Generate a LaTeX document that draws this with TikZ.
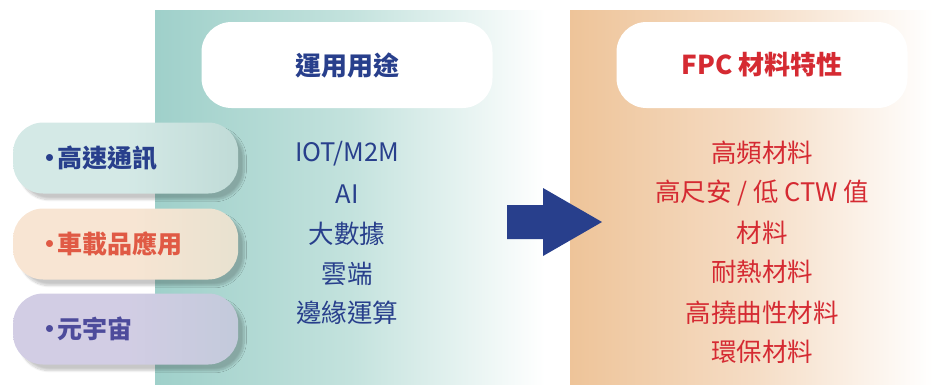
\documentclass[tikz,border=0pt]{standalone}
\usepackage{fontspec}
\setmainfont{Noto Sans CJK TC}
\usetikzlibrary{shadows.blur}
\definecolor{tealL}{HTML}{9FD0CA}
\definecolor{tealM}{HTML}{C3E2DD}
\definecolor{orL}{HTML}{EEC499}
\definecolor{orM}{HTML}{F5DCC4}
\definecolor{navy}{HTML}{283F8C}
\definecolor{redT}{HTML}{D52A32}
\definecolor{pillA}{HTML}{D4E9E6}
\definecolor{pillAr}{HTML}{C0DBD7}
\definecolor{pillB}{HTML}{F8E5D3}
\definecolor{pillBr}{HTML}{E8E2D0}
\definecolor{pillC}{HTML}{D2CDE4}
\definecolor{pillCr}{HTML}{C3CADB}
\definecolor{txtB}{HTML}{E05A45}
\definecolor{txtC}{HTML}{4D4B9B}
\tikzset{
  header/.style={fill=white, rounded corners=30pt, minimum width=291pt, minimum height=86pt, font=\fontsize{26}{30}\selectfont\bfseries},
  pill/.style={rounded corners=30pt, minimum width=225pt, minimum height=71pt, anchor=west, text width=205pt, align=left,
    font=\fontsize{25}{29}\selectfont\bfseries,
    blur shadow={shadow xshift=6pt, shadow yshift=-6pt, shadow blur steps=12, shadow opacity=22}},
  item/.style={font=\fontsize{25.5}{30}\selectfont, inner sep=0pt},
}
\newcommand{\pbul}{\hspace*{14pt}•\hspace{-5pt}}
\begin{document}
\begin{tikzpicture}[x=1pt,y=-1pt]
\useasboundingbox (0,0) rectangle (933,384);
% panels
\shade[left color=tealL, right color=white, middle color=tealM] (155,10) rectangle (545,384);
\shade[left color=orL, right color=white, middle color=orM] (570,10) rectangle (933,384);
% headers
\node[header, text=navy] (h1) at (347,65) {運用用途};
\node[header, text=redT] (h2) at (762,65) {FPC 材料特性};
% lists
\begin{scope}[every node/.style={item, text=navy}]
\node (a1) at (347,154) {IOT/M2M};
\node (a2) at (347,194) {AI};
\node (a3) at (347,234) {大數據};
\node (a4) at (347,274) {雲端};
\node (a5) at (347,313) {邊緣運算};
\end{scope}
\begin{scope}[every node/.style={item, text=redT}]
\node (b1) at (762,153) {高頻材料};
\node (b2) at (762,193) {高尺安 / 低 CTW 值};
\node (b3) at (762,233) {材料};
\node (b4) at (762,272) {耐熱材料};
\node (b5) at (762,313) {高撓曲性材料};
\node (b6) at (762,352) {環保材料};
\end{scope}
% pills
\node[pill, left color=pillA, right color=pillAr, middle color=pillA, text=navy] (p1) at (13,158) {\pbul 高速通訊};
\node[pill, left color=pillB, right color=pillBr, middle color=pillB, text=txtB] (p2) at (13,244) {\pbul 車載品應用};
\node[pill, left color=pillC, right color=pillCr, middle color=pillC, text=txtC] (p3) at (13,329) {\pbul 元宇宙};
% arrow
\fill[navy] (507,205) -- (543,205) -- (543,188) -- (602,222) -- (543,256) -- (543,239) -- (507,239) -- cycle;
\end{tikzpicture}
\end{document}
